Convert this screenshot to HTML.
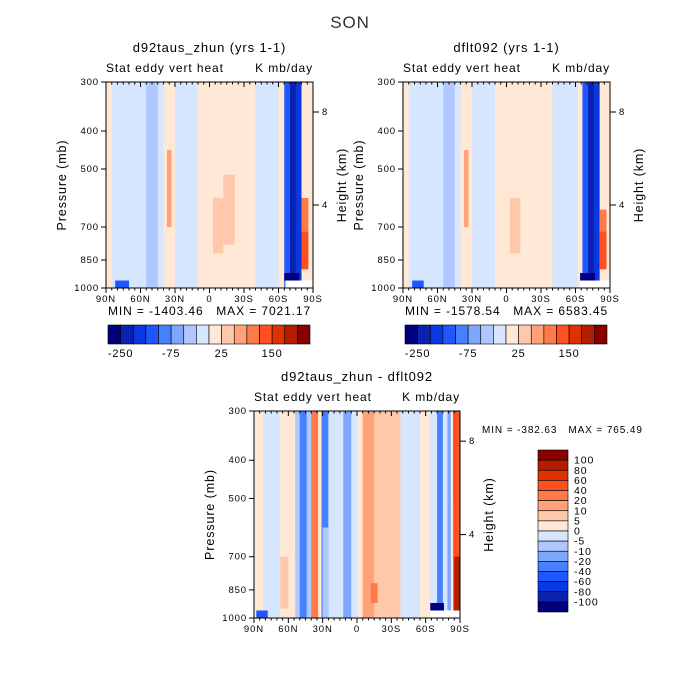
<!DOCTYPE html>
<html><head><meta charset="utf-8"><style>
body{margin:0;background:#fff;}
svg{display:block;font-family:"Liberation Sans",sans-serif;}
text{letter-spacing:0.9px;white-space:pre;}
</style></head><body>
<svg id="c" width="700" height="700"></svg>
<script>
const colors=["#00007f","#0a22b0","#0a38e0","#1e56ff","#4680ff","#7ea6ff","#b0c8ff","#d6e6ff","#ffe8d6","#ffc8aa","#ffa27a","#ff7a48","#ff5020","#e03200","#b41e00","#880000"];
const latTicks=[90,60,30,0,-30,-60,-90];
const latLabels=["90N","60N","30N","0","30S","60S","90S"];
const pTicks=[300,400,500,700,850,1000];
const hTicks=[8,4];
const topBarLabels=["-250","-75","25","150"];
const diffBarLabels=["100","80","60","40","20","10","5","0","-5","-10","-20","-40","-60","-80","-100"];
// bands: [lat north, lat south, level]
const bandsA=[[90,85,8],[85,55,7],[55,45,6],[45,40,7],[40,30,8],[30,10,7],[10,-40,8],[-40,-60,7],[-60,-65,8],[-65,-70,3],[-70,-75,1],[-75,-80,2],[-80,-90,8]];
// patches: [latN, latS, pTop, pBottom, level]
const patchesA=[[37,33,450,700,10],[-3,-12,600,820,9],[-12,-22,520,780,9],[-80,-86,600,720,11],[-80,-86,720,900,12],[-65,-78,920,960,0],[-66,-90,960,1000,-1],[82,70,960,1000,3],[-90,-88,300,680,8]];
const bandsB=[[90,85,8],[85,55,7],[55,45,6],[45,40,7],[40,30,8],[30,10,7],[10,-40,8],[-40,-62,7],[-62,-66,8],[-66,-71,3],[-71,-76,1],[-76,-81,2],[-81,-90,8]];
const patchesB=[[37,33,450,700,10],[-3,-12,600,820,9],[-81,-87,640,720,11],[-81,-87,720,900,12],[-64,-77,920,960,0],[-64,-90,960,1000,-1],[82,72,960,1000,3]];
const bandsD=[[90,82,8],[82,67,7],[67,54,8],[54,50,6],[50,44,4],[44,40,6],[40,34,11],[34,31,8],[31,25,4],[25,12,7],[12,5,5],[5,0,7],[0,-5,8],[-5,-15,10],[-15,-38,9],[-38,-55,7],[-55,-64,8],[-64,-70,7],[-70,-75,4],[-75,-79,7],[-79,-82,5],[-82,-84,8],[-84,-90,12]];
const patchesD=[[67,60,700,950,9],[30,25,600,1000,6],[-12,-18,820,920,11],[-64,-76,920,960,0],[-64,-90,960,1000,-1],[-84,-90,300,500,12],[-85,-90,700,960,14],[88,78,960,1000,3]];
const NS="http://www.w3.org/2000/svg";
const svg=document.getElementById("c");
function el(t,a,p){const e=document.createElementNS(NS,t);for(const k in a)e.setAttribute(k,a[k]);(p||svg).appendChild(e);return e;}
function txt(x,y,s,size,anchor,rot){const a={x:x,y:y,"font-size":size,"text-anchor":anchor||"middle",fill:"#000"};if(rot)a.transform=`rotate(${rot} ${x} ${y})`;const t=el("text",a);t.textContent=s;return t;}
const pY=[[300,82],[400,131],[500,169],[700,227],[850,260],[1000,288]];
function yOf(p,y0,h){for(let i=0;i<pY.length-1;i++){const a=pY[i],b=pY[i+1];if(p<=b[0]){return y0+((a[1]+(p-a[0])/(b[0]-a[0])*(b[1]-a[1]))-82)*h/206;}}return y0+h;}
function panel(name,x0,y0,w,h,bands,patches,title,mm){
  const g=el("g",{});
  
  
  const xs=l=>x0+(90-l)/180*w;
  for(const b of bands){const r=el("rect",{x:xs(b[0]),y:y0,width:xs(b[1])-xs(b[0])+0.5,height:h,fill:colors[b[2]]},g);}
  for(const p of patches){const r=el("rect",{x:xs(p[0]),y:yOf(p[2],y0,h),width:xs(p[1])-xs(p[0]),height:yOf(p[3],y0,h)-yOf(p[2],y0,h),fill:p[4]<0?"#fff":colors[p[4]]},g);}
  el("rect",{x:x0,y:y0,width:w,height:h,fill:"none",stroke:"#000","stroke-width":1},g);
  latTicks.forEach((l,i)=>{const x=xs(l);el("line",{x1:x,y1:y0+h,x2:x,y2:y0+h+5,stroke:"#000"},g);el("line",{x1:x,y1:y0,x2:x,y2:y0+5,stroke:"#000"},g);txt(x,y0+h+14,latLabels[i],9.5);});
  for(let l=85;l>-90;l-=5){if(l%30){const x=xs(l);el("line",{x1:x,y1:y0+h,x2:x,y2:y0+h+2.5,stroke:"#000"},g);el("line",{x1:x,y1:y0,x2:x,y2:y0+2.5,stroke:"#000"},g);}}
  pTicks.forEach(p=>{const y=yOf(p,y0,h);el("line",{x1:x0-5,y1:y,x2:x0,y2:y,stroke:"#000"},g);txt(x0-7,y+3,String(p),9.5,"end");});
  hTicks.forEach((k,i)=>{const y=y0+(i==0?30:123)*h/206;el("line",{x1:x0+w,y1:y,x2:x0+w+6,y2:y,stroke:"#000"},g);txt(x0+w+9,y+3,String(k),9.5,"start");});
  txt(x0+w/2,y0-30,title,13);
  txt(x0,y0-10,"Stat eddy vert heat",12,"start");
  txt(x0+w,y0-10,"K mb/day",12,"end");
  txt(x0-40,y0+h/2,"Pressure (mb)",12.5,"middle",-90);
  txt(x0+w+33,y0+h/2,"Height (km)",12.5,"middle",-90);
  if(mm)txt(x0+w/2,y0+h+27,mm,12);
}
function hbar(name,x0,y0){
  const g=el("g",{});
  const bw=202/16;
  colors.forEach((c,i)=>el("rect",{x:x0+i*bw,y:y0,width:bw,height:19,fill:c,stroke:"#000","stroke-width":0.6},g));
  topBarLabels.forEach((s,i)=>txt(x0+(1+4*i)*bw,y0+32,s,11));
}
txt(350,28,"SON",17).setAttribute("fill","#333");
panel("panel-d92taus",106,82,207,206,bandsA,patchesA,"d92taus_zhun (yrs 1-1)","MIN = -1403.46   MAX = 7021.17");
panel("panel-dflt092",403,82,207,206,bandsB,patchesB,"dflt092 (yrs 1-1)","MIN = -1578.54   MAX = 6583.45");
panel("panel-difference",254,411,206,207,bandsD,patchesD,"d92taus_zhun - dflt092","");
hbar("colorbar-left",108,325);
hbar("colorbar-right",405,325);
txt(482,433,"MIN = -382.63   MAX = 765.49",10,"start");
const vb=el("g",{});
const bh=162/16;
colors.forEach((c,i)=>el("rect",{x:538,y:450+i*bh,width:30,height:bh,fill:colors[15-i],stroke:"#000","stroke-width":0.6},vb));
diffBarLabels.forEach((s,i)=>txt(574,450+(i+1)*bh+3.5,s,10.5,"start"));
</script>
</body></html>
